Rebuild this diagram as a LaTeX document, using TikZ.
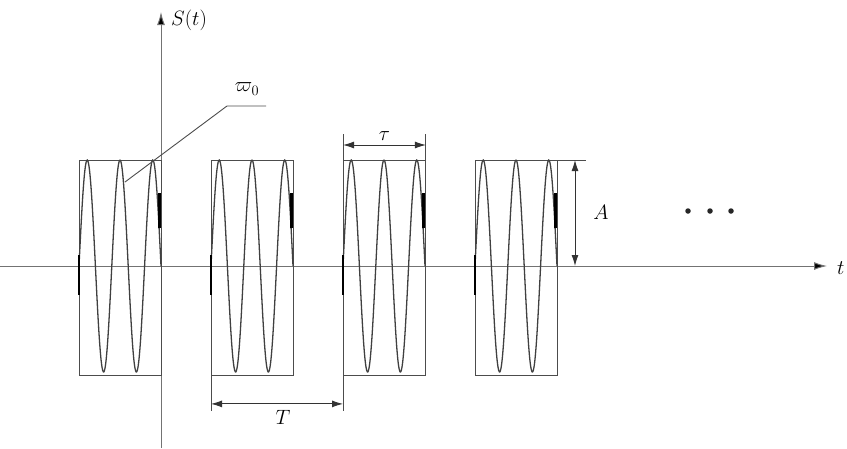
\documentclass[tikz,border=0pt]{standalone}
\usetikzlibrary{arrows.meta}
\begin{document}
\begin{tikzpicture}[x=1pt,y=-1pt,
  every node/.style={font=\fontsize{22}{26}\selectfont, inner sep=1pt},
  axisline/.style={draw=black!55, line width=1pt},
  pulsebox/.style={draw=black!70, line width=0.9pt, minimum width=82pt, minimum height=215pt, inner sep=0pt, anchor=north west},
  wave/.style={draw=black!75, line width=1.3pt},
  dimarrow/.style={{Latex[length=11pt,width=7pt]}-{Latex[length=11pt,width=7pt]}, line width=0.9pt, draw=black!80, fill=black},
  extline/.style={draw=black!70, line width=0.9pt},
  edgemark/.style={line width=2.6pt, draw=black},
  dot/.style={circle, fill=black!85, inner sep=0pt, minimum size=5.5pt}]
\useasboundingbox (0,0) rectangle (847,448);
% axes
\coordinate (xs) at (0,266);
\coordinate (xe) at (827,266);
\coordinate (ys) at (161,448);
\coordinate (ye) at (161,12);
\draw[axisline, -{Latex[length=13pt,width=8pt,fill=black]}] (xs) -- (xe);
\draw[axisline, -{Latex[length=13pt,width=8pt,fill=black]}] (ys) -- (ye);
\node[anchor=west] (St) at (170,20) {$S(t)$};
\node[anchor=west, inner sep=0pt] (t) at (837,268) {$t$};
% pulses
\foreach \i/\xl in {1/79,2/211,3/343,4/475}{
  \node[pulsebox] (b\i) at (\xl,160) {};
  \draw[wave] plot[domain=0:82,samples=140,smooth] ({\xl+\x},{266-106*sin(10.97561*\x)});
  \draw[edgemark] (\xl,255) -- (\xl,295);
  \draw[edgemark] (\xl+80.5,193) -- (\xl+80.5,228);
}
% T dimension
\draw[extline] (b2.south west) -- ++(0,35);
\draw[extline] (b3.south west) -- ++(0,35);
\path (b2.south west) ++(0,28) coordinate (Ta);
\path (b3.south west) ++(0,28) coordinate (Tb);
\draw[dimarrow] (Ta) -- (Tb) node[midway, below=5pt, xshift=6pt] (Tl) {$T$};
% tau dimension
\draw[extline] (b3.north west) -- ++(0,-26);
\draw[extline] (b3.north east) -- ++(0,-26);
\path (b3.north west) ++(0,-15) coordinate (ta);
\path (b3.north east) ++(0,-15) coordinate (tb);
\draw[dimarrow] (ta) -- (tb) node[midway, above=3pt] (tl) {$\tau$};
% A dimension
\coordinate (Ae) at (586,160);
\draw[extline] (b4.north east) -- (Ae);
\coordinate (Aa) at (575,160);
\coordinate (Ab) at (575,266);
\draw[dimarrow] (Aa) -- (Ab);
\node (Al) at (601,212) {$A$};
% dots
\node[dot] (d1) at (688,211) {};
\node[dot] (d2) at (710,211) {};
\node[dot] (d3) at (731,211) {};
% omega label
\node (w) at (247,89) {$\varpi_0$};
\coordinate (wu1) at (227,106);
\coordinate (wu2) at (266,106);
\coordinate (wp) at (125,182);
\draw[extline] (wu2) -- (wu1) -- (wp);
\end{tikzpicture}
\end{document}
